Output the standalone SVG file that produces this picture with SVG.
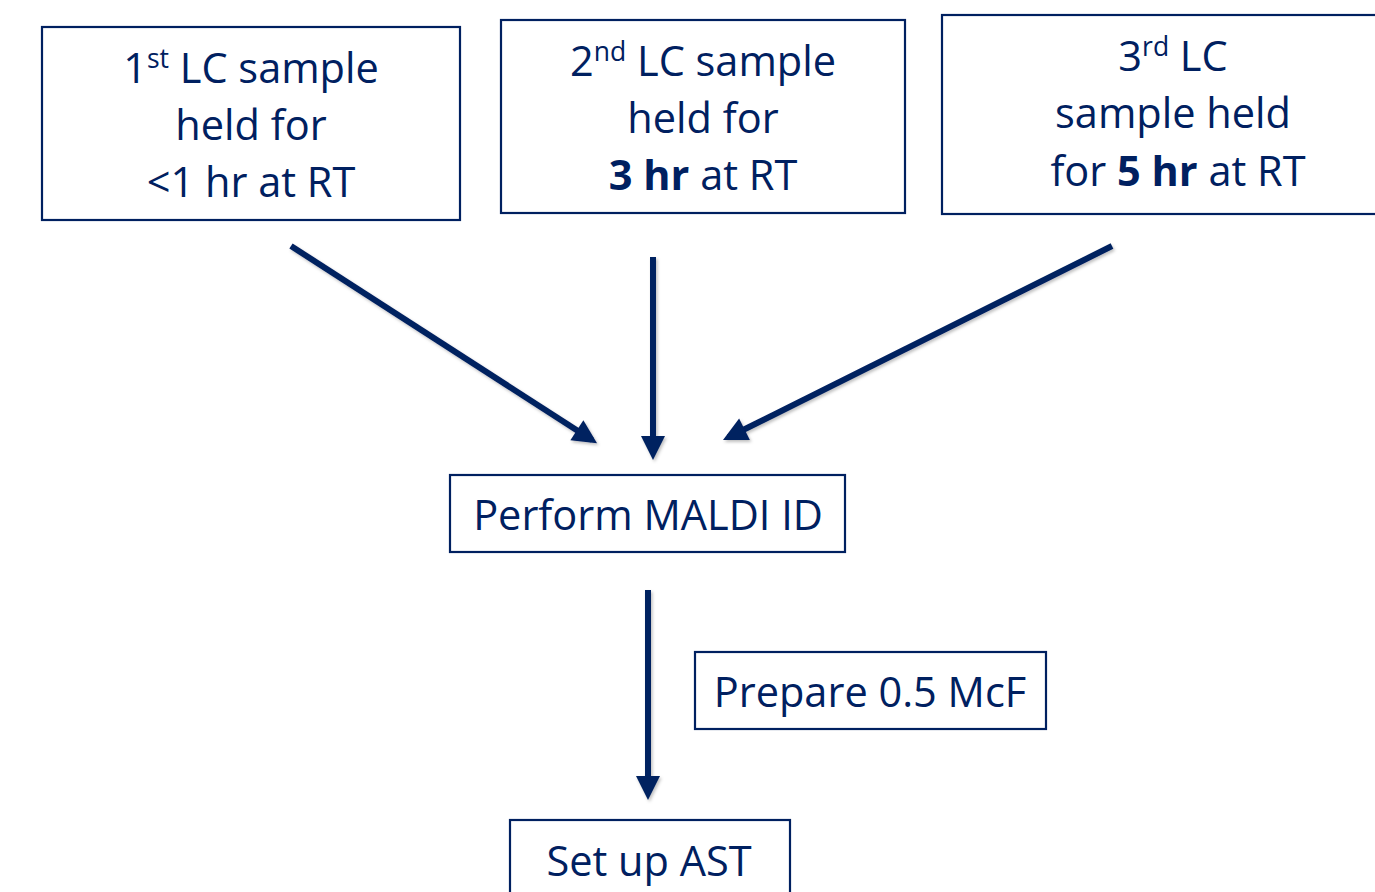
<svg xmlns="http://www.w3.org/2000/svg" width="1375" height="892" viewBox="0 0 1375 892">
<style>
.box{fill:#fff;stroke:#002060;stroke-width:2.2}
.t{font-family:"Open Sans","Noto Sans",sans-serif;font-size:41.5px;fill:#002060;text-anchor:middle}
.b{font-weight:bold}
.sup{font-size:26.5px}
.arr{stroke:#002060;stroke-width:6;fill:none;marker-end:url(#ah);filter:url(#sh)}
</style>
<defs>
<marker id="ah" markerUnits="strokeWidth" markerWidth="4" markerHeight="4" refX="3" refY="2" orient="auto" overflow="visible">
<path d="M0,0 L4,2 L0,4 z" fill="#002060"/>
</marker>
<filter id="sh" filterUnits="userSpaceOnUse" x="0" y="0" width="1375" height="892">
<feDropShadow dx="1.5" dy="2" stdDeviation="1.5" flood-color="#000" flood-opacity="0.25"/>
</filter>
</defs>
<g id="connectors">
<line class="arr" x1="291" y1="246" x2="592" y2="440"/>
<line class="arr" x1="653" y1="257" x2="653" y2="454"/>
<line class="arr" x1="1112" y1="246" x2="728.4" y2="437.3"/>
<line class="arr" x1="648" y1="590" x2="648" y2="794"/>
</g>
<g id="n1">
<rect class="box" x="42" y="27" width="418" height="193"/>
<text class="t" x="251" y="83">1<tspan class="sup" dy="-15">st</tspan><tspan dy="15"> LC sample</tspan></text>
<text class="t" x="251" y="140">held for</text>
<text class="t" x="251" y="197">&lt;1 hr at RT</text>
</g>
<g id="n2">
<rect class="box" x="501" y="20" width="404" height="193"/>
<text class="t" x="703" y="76">2<tspan class="sup" dy="-15">nd</tspan><tspan dy="15"> LC sample</tspan></text>
<text class="t" x="703" y="133">held for</text>
<text class="t" x="703" y="190"><tspan class="b">3 hr</tspan> at RT</text>
</g>
<g id="n3">
<rect class="box" x="942" y="15" width="440" height="199"/>
<text class="t" x="1173" y="71">3<tspan class="sup" dy="-15">rd</tspan><tspan dy="15"> LC</tspan></text>
<text class="t" x="1173" y="128">sample held</text>
<text class="t" x="1178" y="186">for <tspan class="b">5 hr</tspan> at RT</text>
</g>
<g id="n4">
<rect class="box" x="450" y="475" width="395" height="77"/>
<text class="t" x="648" y="530">Perform MALDI ID</text>
</g>
<g id="n5">
<rect class="box" x="695" y="652" width="351" height="77"/>
<text class="t" x="870" y="707">Prepare 0.5 McF</text>
</g>
<g id="n6">
<rect class="box" x="510" y="820" width="280" height="90"/>
<text class="t" x="649" y="876">Set up AST</text>
</g>
</svg>
